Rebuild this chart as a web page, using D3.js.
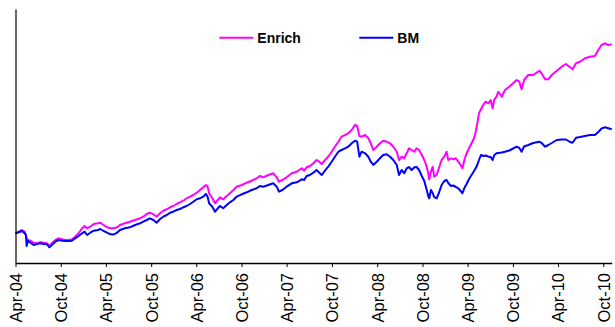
<!DOCTYPE html>
<html>
<head>
<meta charset="utf-8">
<script src="https://cdn.jsdelivr.net/npm/d3@7"></script>
<style>
  html, body { margin: 0; padding: 0; background: #fff; }
  svg { display: block; }
</style>
</head>
<body>
<svg id="chart" width="615" height="327"></svg>
<script>
// ---- data (index level, arbitrary units) ----
const dates = [
"2004-04-01","2004-04-14","2004-04-27","2004-05-08","2004-05-13","2004-05-16","2004-05-21","2004-05-31","2004-06-13","2004-06-27",
"2004-07-10","2004-07-24","2004-08-06","2004-08-16","2004-08-26","2004-09-09","2004-09-22","2004-10-06","2004-10-19","2004-11-02",
"2004-11-15","2004-11-28","2004-12-12","2004-12-26","2005-01-05","2005-01-15","2005-01-28","2005-02-11","2005-02-28","2005-03-09",
"2005-03-23","2005-04-06","2005-04-19","2005-05-03","2005-05-16","2005-05-28","2005-06-17","2005-07-07","2005-07-28","2005-08-17",
"2005-08-30","2005-09-13","2005-09-26","2005-10-10","2005-10-23","2005-11-06","2005-11-19","2005-12-03","2005-12-16","2005-12-29",
"2006-01-12","2006-01-25","2006-02-08","2006-02-21","2006-03-07","2006-03-20","2006-04-03","2006-04-16","2006-04-29","2006-05-10",
"2006-05-17","2006-05-23","2006-06-05","2006-06-16","2006-06-27","2006-07-06","2006-07-19","2006-08-02","2006-08-15","2006-08-29",
"2006-09-11","2006-10-02","2006-10-22","2006-11-11","2006-12-01","2006-12-14","2006-12-28","2007-01-17","2007-02-06","2007-02-20",
"2007-03-01","2007-03-15","2007-04-01","2007-04-22","2007-05-12","2007-06-01","2007-06-11","2007-06-21","2007-07-04","2007-07-18",
"2007-07-31","2007-08-11","2007-08-21","2007-09-03","2007-09-16","2007-09-30","2007-10-13","2007-10-27","2007-11-09","2007-11-23",
"2007-12-06","2007-12-20","2008-01-02","2008-01-11","2008-01-20","2008-01-29","2008-02-12","2008-02-25","2008-03-06","2008-03-16",
"2008-03-30","2008-04-12","2008-04-25","2008-05-09","2008-05-23","2008-06-05","2008-06-19","2008-06-28","2008-07-09","2008-07-19",
"2008-07-29","2008-08-07","2008-08-18","2008-08-29","2008-09-07","2008-09-17","2008-09-28","2008-10-08","2008-10-18","2008-10-24",
"2008-10-28","2008-11-04","2008-11-11","2008-11-17","2008-11-27","2008-12-06","2008-12-17","2008-12-28","2009-01-06","2009-01-13",
"2009-01-24","2009-02-02","2009-02-13","2009-02-22","2009-03-04","2009-03-11","2009-03-19","2009-03-28","2009-04-07","2009-04-17",
"2009-04-27","2009-05-04","2009-05-10","2009-05-17","2009-05-25","2009-06-03","2009-06-13","2009-06-24","2009-07-03","2009-07-11",
"2009-07-18","2009-07-27","2009-08-03","2009-08-17","2009-08-30","2009-09-16","2009-10-02","2009-10-16","2009-10-27","2009-11-05",
"2009-11-15","2009-12-02","2009-12-22","2010-01-16","2010-01-25","2010-02-08","2010-02-21","2010-03-07","2010-03-27","2010-04-16",
"2010-05-03","2010-05-20","2010-05-30","2010-06-13","2010-06-29","2010-07-19","2010-08-08","2010-08-28","2010-09-11","2010-09-24",
"2010-10-08","2010-10-21","2010-11-04"
];

const enrich = [
100.7,102.3,104,102.3,99,96,94,93.3,91.3,90.7,
91.7,91.3,90.7,88,90.7,94,95.7,94.7,94,94,
94.7,97.3,100.7,105.7,108,105.7,107.3,110,110.7,111.3,
109,106.7,105.7,105.7,106.7,109,110.7,112.3,114,115.7,
117.3,120,121.3,119.7,117.3,120.7,123.3,124.7,126.7,128,
130,131.7,133.3,135.7,137.3,139,141.3,144,146.7,149,
147.3,140.7,135.7,130.7,134,136.7,134.7,138,140.7,144,
147.3,149,151.3,153.3,155.7,158,156.7,159,160.7,156.7,
152.3,154,156.7,160.7,162.3,165.7,163.3,166.7,168,170.7,
174,172.3,170,174,177.3,182.3,187.3,192.3,197.3,199,
200.7,204,209,208,198,197.3,199,195.7,190.7,184,
187.3,190.7,193.3,192.3,190.7,187.3,182.3,174,177.3,175.7,
180.7,185.7,184,182.3,185.7,184,179,174,167.3,160.7,
154.7,162.3,167.3,157.3,159,165.7,174,177.3,182.3,174,
175.7,174.7,175.7,172.3,169,165.7,174,180.7,185.7,190.7,
195.7,202.3,210.7,220.7,224.7,229,232.3,230.7,234,225.7,
234.7,237.3,242.3,237.3,244,247.3,250.7,254,252.3,244.7,
254,259,259,263.3,260.7,254.7,254.7,259,263.3,267.3,
270,266.7,264.7,270.7,272.3,275.7,277.3,278,284,289,
290.7,289,289.7
];

const bm = [
100.7,101.7,103,100.7,99,88,93.3,91.3,89,90,
90.7,90,89.7,86.7,89,92.3,94,93.3,93,93,
93.3,95.7,98,100.7,102.3,99,101.3,103.3,104,105,
103,101.3,99.7,99.5,101.3,104,105.7,106.7,109,110.7,
112.3,114,115.7,114,111.3,115,117.3,119,121.3,122.3,
124,125,126.7,128,130,132.3,134.7,135.7,137.3,140,
137.3,130.7,127.3,122.3,125.7,128,125.7,129,131.7,134,
137.3,139.7,141.7,144,145.7,148,147.3,149,150.7,147.3,
142.3,144,147.3,150.7,151.7,154.7,154,158,159,161.3,
164,161.3,159,163.3,167.3,172.3,177.3,182.3,184,185.7,
187.3,190.7,193.3,192.3,177.3,182.3,180.7,177.3,172.3,169,
172.3,175.7,179,179.7,177.3,174,169,159,164,160.7,
165.7,167,164,166.7,167,164,158,153,144,138,
135.7,144,141,137,135.7,141,149,153,154,151,
148,148.5,147,145.7,143,140.7,146,150,155,159,
163,166,169,174,179,178,178.5,177.3,177,174,
179,180.7,181,181.5,182.3,183.5,185.5,187.3,186,182.3,
187.5,189,191,192.3,191,187.3,189,191,194,194.5,
194.5,192,191.3,196.3,197,198,199,199,202,205.5,
206.7,205.7,204.7
];

const seriesNames = ["Enrich", "BM"];
const seriesColors = ["#FF00FF", "#0000FF"];
const tickLabels = ["Apr-04","Oct-04","Apr-05","Oct-05","Apr-06","Oct-06","Apr-07",
                    "Oct-07","Apr-08","Oct-08","Apr-09","Oct-09","Apr-10","Oct-10"];

// ---- drawing ----
const svg = d3.select("#chart");
const parseDate = d3.timeParse("%Y-%m-%d");
const parseTick = d3.timeParse("%b-%y");
const fmtTick = d3.timeFormat("%b-%y");

const xDates = dates.map(parseDate);
const x = d3.scaleTime()
  .domain([xDates[0], xDates[xDates.length - 1]])
  .range([15.5, 611.7]);
const y = d3.scaleLinear()
  .domain([71, 325])
  .range([263, 9]);

const series = [enrich, bm];
const line = d3.line()
  .x((d, i) => x(xDates[i]))
  .y(d => y(d));

series.forEach((vals, k) => {
  svg.append("path")
    .datum(vals)
    .attr("fill", "none")
    .attr("stroke", seriesColors[k])
    .attr("stroke-width", 2)
    .attr("stroke-linejoin", "round")
    .attr("d", line);
});

// left axis (line only)
svg.append("g")
  .attr("transform", "translate(15.5,0)")
  .call(d3.axisLeft(y).tickValues([]).tickSizeOuter(0))
  .select(".domain").attr("stroke", "#000").attr("stroke-width", 1.2);

// bottom axis
const xAxis = svg.append("g")
  .attr("transform", "translate(0,263)")
  .call(d3.axisBottom(x)
    .tickValues(tickLabels.map(parseTick))
    .tickFormat(fmtTick)
    .tickSize(4)
    .tickSizeOuter(0));
xAxis.select(".domain").attr("stroke", "#000").attr("stroke-width", 1.5);
xAxis.selectAll(".tick line").attr("stroke", "#000").attr("stroke-width", 1);
xAxis.selectAll(".tick text")
  .attr("font-family", "'Liberation Sans', Arial, Helvetica, sans-serif")
  .attr("font-size", "16.5px")
  .attr("fill", "#000")
  .attr("text-anchor", "end")
  .attr("transform", "translate(0,10) rotate(-90)")
  .attr("x", 0)
  .attr("y", 0)
  .attr("dy", "0.36em");

// legend
const legendX = [219.3, 359.3];
const legend = svg.append("g");
seriesNames.forEach((name, k) => {
  legend.append("line")
    .attr("x1", legendX[k]).attr("x2", legendX[k] + 34)
    .attr("y1", 37.7).attr("y2", 37.7)
    .attr("stroke", seriesColors[k]).attr("stroke-width", 2);
  legend.append("text")
    .attr("x", legendX[k] + 38)
    .attr("y", 43.2)
    .attr("font-family", "'Liberation Sans', Arial, Helvetica, sans-serif")
    .attr("font-weight", "bold")
    .attr("font-size", "14px")
    .attr("fill", "#000")
    .text(name);
});
</script>
</body>
</html>
